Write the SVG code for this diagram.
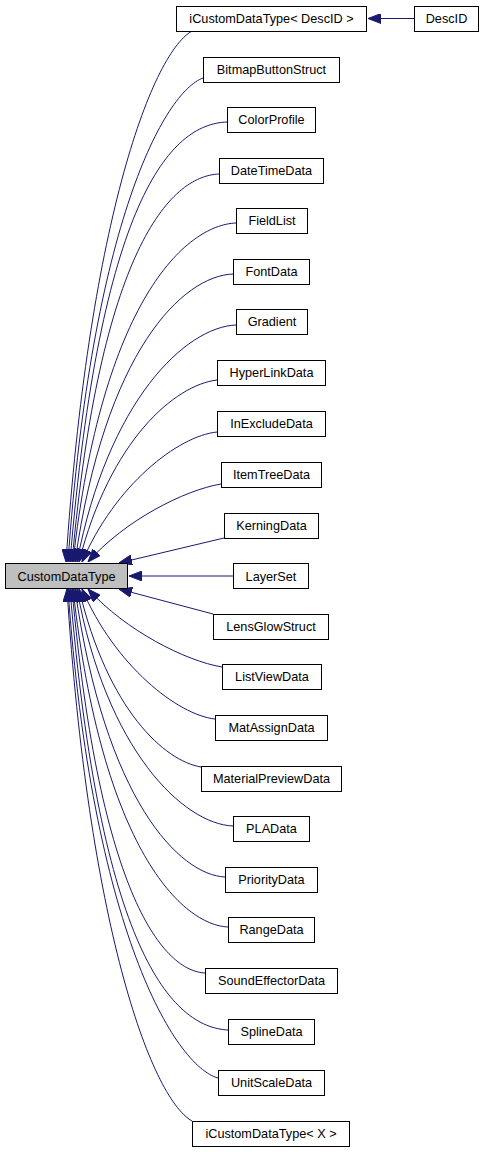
<svg xmlns="http://www.w3.org/2000/svg" width="484" height="1152" viewBox="0 0 484 1152">
<defs>
<style>
.node rect{fill:#ffffff;stroke:#000000;stroke-width:1}
.node.root rect{fill:#bfbfbf}
.node text{font-family:"Liberation Sans",Arial,sans-serif;font-size:12.7px;fill:#000000;text-anchor:middle}
.edge{fill:none;stroke:#191970;stroke-width:1;marker-end:url(#arr)}
</style>
<marker id="arr" viewBox="0 0 13 10" refX="13" refY="5" markerWidth="13" markerHeight="10" markerUnits="userSpaceOnUse" orient="auto">
<path d="M0,0 L13,5 L0,10 z" fill="#191970" stroke="#191970" stroke-width="1"/>
</marker>
</defs>
<rect x="0" y="0" width="484" height="1152" fill="#ffffff"/>
<g id="connectors">
<path class="edge" d="M414,18.5 L368,18.5"/>
<path class="edge" d="M192,31 C150,55 88,230 66,562"/>
<path class="edge" d="M203,78 C165,92 92,220 68,562"/>
<path class="edge" d="M227,122 C170,124 100,200 70,562"/>
<path class="edge" d="M219,174 C170,176 100,250 72,562"/>
<path class="edge" d="M236,223 C186,225 102,300 73,562"/>
<path class="edge" d="M233,274 C183,276 105,350 75,562"/>
<path class="edge" d="M236,325 C186,327 108,400 77,562"/>
<path class="edge" d="M217,380 C175,385 110,440 79,562"/>
<path class="edge" d="M217,432 C178,436 115,485 82,562"/>
<path class="edge" d="M221,484 C185,490 125,520 88,562"/>
<path class="edge" d="M224,538 L119,563"/>
<path class="edge" d="M233,576 L129,576"/>
<path class="edge" d="M213,614 L119,589"/>
<path class="edge" d="M222,667 C186,661 126,631 88,589"/>
<path class="edge" d="M215,719 C178,715 115,666 82,589"/>
<path class="edge" d="M201,767 C165,761 108,711 79,589"/>
<path class="edge" d="M233,826 C184,824 106,751 77,589"/>
<path class="edge" d="M225,877 C180,875 105,801 75,589"/>
<path class="edge" d="M228,927 C183,925 102,851 73,589"/>
<path class="edge" d="M205,973 C165,971 100,901 72,589"/>
<path class="edge" d="M228,1030 C172,1027 100,951 70,589"/>
<path class="edge" d="M218,1078 C175,1066 92,931 68,589"/>
<path class="edge" d="M192,1121 C150,1097 88,922 67,589"/>
</g>
<g id="CustomDataType" class="node root"><rect x="5.5" y="563.5" width="122" height="25"/><text x="66.5" y="580.5">CustomDataType</text></g>
<g id="iCustomDataType_DescID" class="node"><rect x="176.5" y="6.5" width="190" height="25"/><text x="271.5" y="23">iCustomDataType&lt; DescID &gt;</text></g>
<g id="DescID" class="node"><rect x="414.5" y="6.5" width="64" height="25"/><text x="446.5" y="23">DescID</text></g>
<g id="BitmapButtonStruct" class="node"><rect x="203.5" y="57.5" width="136" height="25"/><text x="271.5" y="74">BitmapButtonStruct</text></g>
<g id="ColorProfile" class="node"><rect x="227.5" y="107.5" width="88" height="25"/><text x="271.5" y="124">ColorProfile</text></g>
<g id="DateTimeData" class="node"><rect x="219.5" y="158.5" width="104" height="25"/><text x="271.5" y="175">DateTimeData</text></g>
<g id="FieldList" class="node"><rect x="236.5" y="208.5" width="71" height="25"/><text x="272" y="225">FieldList</text></g>
<g id="FontData" class="node"><rect x="233.5" y="259.5" width="76" height="25"/><text x="271.5" y="276">FontData</text></g>
<g id="Gradient" class="node"><rect x="236.5" y="309.5" width="71" height="25"/><text x="272" y="326">Gradient</text></g>
<g id="HyperLinkData" class="node"><rect x="217.5" y="360.5" width="108" height="25"/><text x="271.5" y="377">HyperLinkData</text></g>
<g id="InExcludeData" class="node"><rect x="217.5" y="411.5" width="108" height="25"/><text x="271.5" y="428">InExcludeData</text></g>
<g id="ItemTreeData" class="node"><rect x="221.5" y="462.5" width="100" height="25"/><text x="271.5" y="479">ItemTreeData</text></g>
<g id="KerningData" class="node"><rect x="224.5" y="513.5" width="94" height="25"/><text x="271.5" y="530">KerningData</text></g>
<g id="LayerSet" class="node"><rect x="233.5" y="563.5" width="75" height="25"/><text x="271" y="580.5">LayerSet</text></g>
<g id="LensGlowStruct" class="node"><rect x="213.5" y="614.5" width="115" height="25"/><text x="271" y="631">LensGlowStruct</text></g>
<g id="ListViewData" class="node"><rect x="222.5" y="664.5" width="99" height="25"/><text x="272" y="681">ListViewData</text></g>
<g id="MatAssignData" class="node"><rect x="215.5" y="715.5" width="112" height="25"/><text x="271.5" y="732">MatAssignData</text></g>
<g id="MaterialPreviewData" class="node"><rect x="201.5" y="766.5" width="140" height="25"/><text x="271.5" y="783">MaterialPreviewData</text></g>
<g id="PLAData" class="node"><rect x="233.5" y="816.5" width="76" height="25"/><text x="271.5" y="833">PLAData</text></g>
<g id="PriorityData" class="node"><rect x="225.5" y="867.5" width="92" height="25"/><text x="271.5" y="884">PriorityData</text></g>
<g id="RangeData" class="node"><rect x="228.5" y="917.5" width="86" height="25"/><text x="271.5" y="934">RangeData</text></g>
<g id="SoundEffectorData" class="node"><rect x="205.5" y="968.5" width="132" height="25"/><text x="271.5" y="985">SoundEffectorData</text></g>
<g id="SplineData" class="node"><rect x="228.5" y="1019.5" width="86" height="25"/><text x="271.5" y="1036">SplineData</text></g>
<g id="UnitScaleData" class="node"><rect x="218.5" y="1070.5" width="106" height="25"/><text x="271.5" y="1087">UnitScaleData</text></g>
<g id="iCustomDataType_X" class="node"><rect x="192.5" y="1121.5" width="157" height="25"/><text x="271" y="1138">iCustomDataType&lt; X &gt;</text></g>
</svg>
